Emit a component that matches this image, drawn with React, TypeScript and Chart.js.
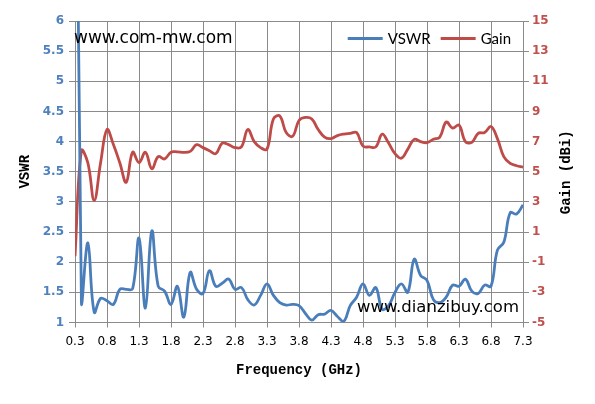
import React, { useEffect, useRef } from "react";
import { Chart, registerables } from "chart.js";

Chart.register(...registerables);

// ---- data ----
const frequencies = [
  0.3, 0.4, 0.5, 0.6, 0.7, 0.8, 0.9, 1.0, 1.1, 1.2,
  1.3, 1.4, 1.5, 1.6, 1.7, 1.8, 1.9, 2.0, 2.1, 2.2,
  2.3, 2.4, 2.5, 2.6, 2.7, 2.8, 2.9, 3.0, 3.1, 3.2,
  3.3, 3.4, 3.5, 3.6, 3.7, 3.8, 3.9, 4.0, 4.1, 4.2,
  4.3, 4.4, 4.5, 4.6, 4.7, 4.8, 4.9, 5.0, 5.1, 5.2,
  5.3, 5.4, 5.5, 5.6, 5.7, 5.8, 5.9, 6.0, 6.1, 6.2,
  6.3, 6.4, 6.5, 6.6, 6.7, 6.8, 6.9, 7.0, 7.1, 7.2,
  7.3,
];

const vswrValues = [
  15.5, 1.35, 2.32, 1.17, 1.40, 1.36, 1.30, 1.55, 1.55, 1.56,
  2.40, 1.24, 2.52, 1.60, 1.52, 1.30, 1.60, 1.09, 1.83, 1.55,
  1.48, 1.86, 1.60, 1.65, 1.72, 1.55, 1.58, 1.38, 1.29, 1.45,
  1.64, 1.45, 1.33, 1.29, 1.30, 1.28, 1.15, 1.04, 1.13, 1.14,
  1.20, 1.10, 1.02, 1.28, 1.42, 1.64, 1.45, 1.58, 1.22, 1.28,
  1.50, 1.64, 1.50, 2.05, 1.78, 1.70, 1.38, 1.33, 1.42, 1.62,
  1.60, 1.72, 1.52, 1.48, 1.62, 1.60, 2.20, 2.33, 2.82, 2.80,
  2.95,
];

const gainValues = [
  -0.6, 6.4, 5.6, 3.1, 5.6, 7.8, 6.8, 5.6, 4.3, 6.3,
  5.6, 6.3, 5.2, 6.0, 5.85, 6.3, 6.32, 6.28, 6.35, 6.8,
  6.6, 6.4, 6.2, 6.9, 6.8, 6.6, 6.65, 7.8, 7.0, 6.6,
  6.5, 8.5, 8.7, 7.6, 7.35, 8.4, 8.6, 8.5, 7.8, 7.3,
  7.2, 7.4, 7.5, 7.55, 7.6, 6.7, 6.65, 6.65, 7.5, 6.9,
  6.2, 5.9, 6.5, 7.15, 7.0, 6.93, 7.15, 7.3, 8.3, 7.9,
  8.1, 7.0, 6.95, 7.55, 7.6, 8.0, 7.2, 6.0, 5.55, 5.4,
  5.3,
];

const freqTicks = [0.3, 0.8, 1.3, 1.8, 2.3, 2.8, 3.3, 3.8, 4.3, 4.8, 5.3, 5.8, 6.3, 6.8, 7.3];
const vswrTicks = [1, 1.5, 2, 2.5, 3, 3.5, 4, 4.5, 5, 5.5, 6];
const gainTicks = [-5, -3, -1, 1, 3, 5, 7, 9, 11, 13, 15];

const seriesNames = ["VSWR", "Gain"];
const watermarkTop = "www.com-mw.com";
const watermarkBottom = "www.dianzibuy.com";
const xTitle = "Frequency (GHz)";
const yLeftTitle = "VSWR";
const yRightTitle = "Gain (dBi)";

const BLUE = "#4A7EBB";
const RED = "#BE4B48";
const BLUE_TXT = "#4F81BD";
const RED_TXT = "#C0504D";
const GRID = "#8A8A8A";

const W = 595;
const H = 404;

const overlayPlugin = {
  id: "overlayTexts",
  afterDatasetsDraw(chart: any) {
    const { ctx, chartArea: a } = chart;
    ctx.save();
    ctx.fillStyle = "#000";
    ctx.textBaseline = "middle";
    ctx.textAlign = "left";
    ctx.font = '17px "DejaVu Sans"';
    ctx.fillText(watermarkTop, a.left - 1, a.top + 17.5);
    ctx.textAlign = "right";
    ctx.font = '16.5px "DejaVu Sans"';
    ctx.fillText(watermarkBottom, a.right - 4, a.bottom - 15);

    // legend inside chart area, top right
    const lineLen = 35;
    const gap = 5;
    const itemGap = 10;
    ctx.font = '15px Lato';
    const items = chart.data.datasets.map((d: any) => ({
      label: d.label,
      color: d.borderColor,
      w: ctx.measureText(d.label).width,
    }));
    let total = 0;
    items.forEach((it: any, i: number) => {
      total += lineLen + gap + it.w + (i > 0 ? itemGap : 0);
    });
    let x = a.right - 12 - total;
    const y = a.top + 17.5;
    ctx.textAlign = "left";
    items.forEach((it: any) => {
      ctx.strokeStyle = it.color;
      ctx.lineWidth = 3;
      ctx.beginPath();
      ctx.moveTo(x, y);
      ctx.lineTo(x + lineLen, y);
      ctx.stroke();
      ctx.fillStyle = "#000";
      ctx.fillText(it.label, x + lineLen + gap, y + 0.5);
      x += lineLen + gap + it.w + itemGap;
    });
    ctx.restore();
  },
  afterDraw(chart: any) {
    const { ctx, chartArea: a } = chart;
    const yr = chart.scales.yR;
    ctx.save();
    ctx.translate(yr.right - 29, (a.top + a.bottom) / 2 + 0.5);
    ctx.rotate(-Math.PI / 2);
    ctx.fillStyle = "#000";
    ctx.font = 'bold 14px "Liberation Mono"';
    ctx.textAlign = "center";
    ctx.textBaseline = "middle";
    ctx.fillText(yRightTitle, 0, 0);
    ctx.restore();
  },
};

export default function App() {
  const canvasRef = useRef<HTMLCanvasElement | null>(null);

  useEffect(() => {
    const canvas = canvasRef.current;
    if (!canvas) return;
    const chart = new Chart(canvas, {
      type: "line",
      data: {
        datasets: [
          {
            label: seriesNames[0],
            data: frequencies.map((f, i) => ({ x: f, y: vswrValues[i] })),
            borderColor: BLUE,
            backgroundColor: BLUE,
            borderWidth: 2.8,
            pointRadius: 0,
            tension: 0.4,
            yAxisID: "y",
          },
          {
            label: seriesNames[1],
            data: frequencies.map((f, i) => ({ x: f, y: gainValues[i] })),
            borderColor: RED,
            backgroundColor: RED,
            borderWidth: 2.8,
            pointRadius: 0,
            tension: 0.4,
            yAxisID: "yR",
          },
        ],
      },
      options: {
        animation: false,
        responsive: false,
        devicePixelRatio: 1,
        layout: { padding: { top: 21, left: 0, right: 0, bottom: 0 } },
        plugins: {
          legend: { display: false },
          tooltip: { enabled: false },
        },
        scales: {
          x: {
            type: "linear",
            min: 0.3,
            max: 7.3,
            afterBuildTicks: (s: any) => {
              s.ticks = freqTicks.map((v) => ({ value: v }));
            },
            afterFit: (s: any) => {
              s.height = H - 322.5;
            },
            grid: { color: GRID, lineWidth: 1, tickLength: 5, drawTicks: true },
            border: { color: GRID, width: 1 },
            ticks: {
              color: "#000",
              font: { family: "DejaVu Sans", size: 12 },
              padding: 7,
              maxRotation: 0,
              autoSkip: false,
              callback: (v: any) => Number(v).toFixed(1),
            },
            title: {
              display: true,
              text: xTitle,
              color: "#000",
              font: { family: "Liberation Mono", size: 14, weight: "bold" },
              padding: { top: 0, bottom: 25.5 },
            },
          },
          y: {
            position: "left",
            min: 1,
            max: 6,
            afterBuildTicks: (s: any) => {
              s.ticks = vswrTicks.map((v) => ({ value: v }));
            },
            afterFit: (s: any) => {
              s.width = 75;
            },
            grid: { color: GRID, lineWidth: 1, tickLength: 6 },
            border: { color: GRID, width: 1 },
            ticks: {
              color: BLUE_TXT,
              font: { family: "DejaVu Sans", size: 12, weight: "bold" },
              padding: 5,
              autoSkip: false,
              callback: (v: any) => String(Number(v)),
            },
            title: {
              display: true,
              text: yLeftTitle,
              color: "#000",
              font: { family: "Liberation Mono", size: 14, weight: "bold" },
              padding: { top: 17.5, bottom: 0 },
            },
          },
          yR: {
            position: "right",
            min: -5,
            max: 15,
            afterBuildTicks: (s: any) => {
              s.ticks = gainTicks.map((v) => ({ value: v }));
            },
            afterFit: (s: any) => {
              s.width = W - 523;
            },
            grid: { color: GRID, lineWidth: 1, tickLength: 6, drawOnChartArea: false },
            border: { color: GRID, width: 1 },
            ticks: {
              color: RED_TXT,
              font: { family: "DejaVu Sans", size: 12, weight: "bold" },
              padding: 3,
              autoSkip: false,
              callback: (v: any) => String(Number(v)),
            },
            title: { display: false },
          },
        },
      } as any,
      plugins: [overlayPlugin],
    });
    return () => chart.destroy();
  }, []);

  return (
    <div style={{ position: "fixed", left: 0, top: 0, width: W, height: H, background: "#fff" }}>
      <canvas ref={canvasRef} width={W} height={H} style={{ display: "block", width: W, height: H }} />
    </div>
  );
}
